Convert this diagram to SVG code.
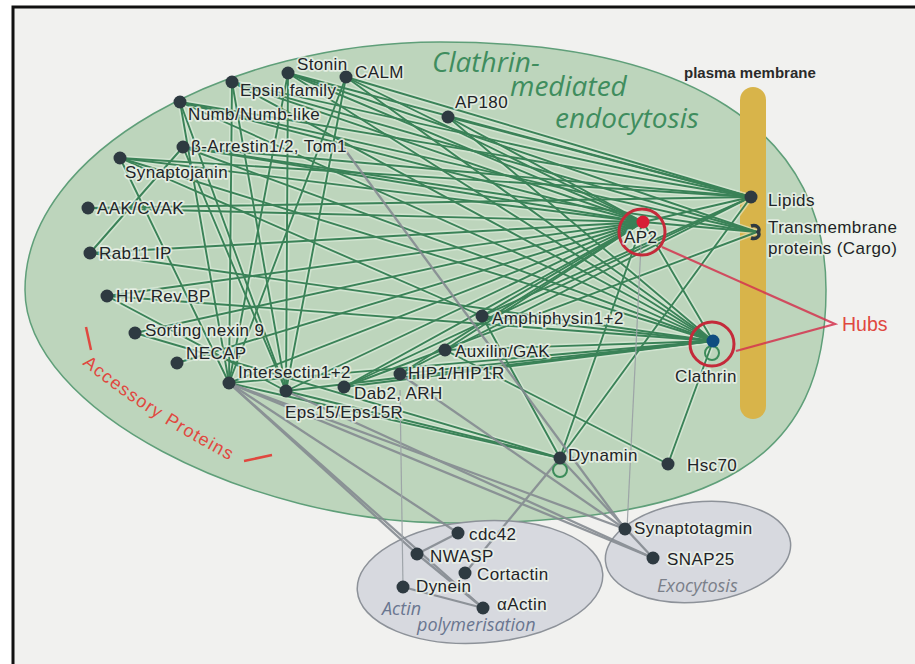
<svg xmlns="http://www.w3.org/2000/svg" width="915" height="664" viewBox="0 0 915 664">
<style>
.bg{fill:#f1f1ef}
.main{fill:#bdd5bc;stroke:#5f9f79;stroke-width:1.5}
.sub{fill:#d7d9df;stroke:#8d9299;stroke-width:1.5}
.bar{fill:#d8b44a}
.nd{fill:#2e3a41}
.lb{font-family:"Liberation Sans",Arial,sans-serif;font-size:17px;letter-spacing:0.4px;fill:#1f2427;paint-order:stroke;stroke:#eef4ec;stroke-width:3.5px;stroke-opacity:.75;stroke-linejoin:round}
.pm{font-family:"Liberation Sans",Arial,sans-serif;font-size:15px;font-weight:bold;fill:#2a2a2a}
.ttl{font-family:"Open Sans","DejaVu Sans",sans-serif;font-style:italic;font-size:28px;fill:#3f8d5e}
.grp{font-family:"Open Sans","DejaVu Sans",sans-serif;font-style:italic;font-size:18px}
.red{font-family:"Liberation Sans",Arial,sans-serif;fill:#e0483f}
.ge{stroke:#2a784b;stroke-width:1.9;fill:none;stroke-linecap:round;opacity:.9}
.halo{stroke:#e3f1e1;stroke-width:5;opacity:.55;fill:none}
.gy{stroke:#858b91;stroke-width:2.3;fill:none;opacity:.9}
.thin{stroke:#9aa0a5;stroke-width:1.2}
.ring{fill:none;stroke:#c42a3a;stroke-width:3}
.open{fill:none;stroke:#3c8c5a;stroke-width:2}
</style>
<rect width="915" height="664" fill="#ffffff"/>
<rect class="bg" x="13" y="7" width="902" height="657"/>
<path d="M13,664 V7 H915" fill="none" stroke="#111" stroke-width="3"/>

<g id="region-cme">
<path class="main" d="M25,290 C25,150 230,42 440,42 C690,42 826,130 826,290 C826,460 720,523 450,523 C250,523 25,410 25,290 Z"/>
</g>
<g id="region-actin">
<ellipse class="sub" cx="480" cy="582" rx="123" ry="61" transform="rotate(-4 480 582)"/>
</g>
<g id="region-exo">
<ellipse class="sub" cx="698" cy="552" rx="93" ry="50" transform="rotate(-6 698 552)"/>
</g>
<g id="plasma-membrane">
<rect class="bar" x="740" y="87" width="26" height="332" rx="13"/>
<text class="pm" x="684" y="78">plasma membrane</text>
</g>

<use href="#green-edges" class="halo"/>
<g id="connectors">
<g class="ge"><g id="green-edges">
<line x1="288" y1="73" x2="643" y2="222"/>
<line x1="346" y1="77" x2="643" y2="222"/>
<line x1="232" y1="82" x2="643" y2="222"/>
<line x1="180" y1="102" x2="643" y2="222"/>
<line x1="448" y1="117" x2="643" y2="222"/>
<line x1="183" y1="147" x2="643" y2="222"/>
<line x1="120" y1="158" x2="643" y2="222"/>
<line x1="88" y1="208" x2="643" y2="222"/>
<line x1="90" y1="253" x2="643" y2="222"/>
<line x1="107" y1="296" x2="643" y2="222"/>
<line x1="135" y1="333" x2="643" y2="222"/>
<line x1="177" y1="363" x2="643" y2="222"/>
<line x1="229" y1="383" x2="643" y2="222"/>
<line x1="286" y1="391" x2="643" y2="222"/>
<line x1="344" y1="387" x2="643" y2="222"/>
<line x1="400" y1="374" x2="643" y2="222"/>
<line x1="445" y1="350" x2="643" y2="222"/>
<line x1="482" y1="316" x2="643" y2="222"/>
<line x1="643" y1="222" x2="751" y2="197"/>
<line x1="643" y1="222" x2="757" y2="232"/>
<line x1="643" y1="222" x2="713" y2="341"/>
<line x1="643" y1="222" x2="560" y2="458"/>
<line x1="288" y1="73" x2="713" y2="341"/>
<line x1="346" y1="77" x2="713" y2="341"/>
<line x1="232" y1="82" x2="713" y2="341"/>
<line x1="180" y1="102" x2="713" y2="341"/>
<line x1="448" y1="117" x2="713" y2="341"/>
<line x1="183" y1="147" x2="713" y2="341"/>
<line x1="120" y1="158" x2="713" y2="341"/>
<line x1="90" y1="253" x2="713" y2="341"/>
<line x1="107" y1="296" x2="713" y2="341"/>
<line x1="229" y1="383" x2="713" y2="341"/>
<line x1="286" y1="391" x2="713" y2="341"/>
<line x1="344" y1="387" x2="713" y2="341"/>
<line x1="400" y1="374" x2="713" y2="341"/>
<line x1="445" y1="350" x2="713" y2="341"/>
<line x1="482" y1="316" x2="713" y2="341"/>
<line x1="668" y1="464" x2="713" y2="341"/>
<line x1="346" y1="77" x2="751" y2="197"/>
<line x1="288" y1="73" x2="751" y2="197"/>
<line x1="232" y1="82" x2="751" y2="197"/>
<line x1="180" y1="102" x2="751" y2="197"/>
<line x1="448" y1="117" x2="751" y2="197"/>
<line x1="183" y1="147" x2="751" y2="197"/>
<line x1="120" y1="158" x2="751" y2="197"/>
<line x1="400" y1="374" x2="751" y2="197"/>
<line x1="344" y1="387" x2="751" y2="197"/>
<line x1="482" y1="316" x2="751" y2="197"/>
<line x1="560" y1="458" x2="751" y2="197"/>
<line x1="88" y1="208" x2="751" y2="197"/>
<line x1="180" y1="102" x2="757" y2="232"/>
<line x1="183" y1="147" x2="757" y2="232"/>
<line x1="288" y1="73" x2="757" y2="232"/>
<line x1="344" y1="387" x2="757" y2="232"/>
<line x1="232" y1="82" x2="757" y2="232"/>
<line x1="229" y1="383" x2="180" y2="102"/>
<line x1="229" y1="383" x2="232" y2="82"/>
<line x1="229" y1="383" x2="288" y2="73"/>
<line x1="229" y1="383" x2="120" y2="158"/>
<line x1="229" y1="383" x2="346" y2="77"/>
<line x1="286" y1="391" x2="232" y2="82"/>
<line x1="286" y1="391" x2="288" y2="73"/>
<line x1="286" y1="391" x2="346" y2="77"/>
<line x1="286" y1="391" x2="180" y2="102"/>
<line x1="286" y1="391" x2="183" y2="147"/>
<line x1="107" y1="296" x2="286" y2="391"/>
<line x1="135" y1="333" x2="560" y2="458"/>
<line x1="482" y1="316" x2="560" y2="458"/>
<line x1="229" y1="383" x2="560" y2="458"/>
<line x1="286" y1="391" x2="560" y2="458"/>
<line x1="445" y1="350" x2="668" y2="464"/>
<line x1="90" y1="253" x2="183" y2="147"/>
<line x1="120" y1="158" x2="482" y2="316"/>
</g></g>
<g class="gy"><g id="grey-edges">
<line x1="229" y1="383" x2="417" y2="554"/>
<line x1="229" y1="383" x2="458" y2="533"/>
<line x1="229" y1="383" x2="483" y2="608"/>
<line x1="229" y1="383" x2="625" y2="529"/>
<line x1="229" y1="383" x2="653" y2="558"/>
<line x1="286" y1="391" x2="653" y2="558"/>
<line x1="400" y1="374" x2="625" y2="529"/>
<line x1="343" y1="147" x2="625" y2="529"/>
<line x1="560" y1="458" x2="465" y2="573"/>
<line x1="560" y1="458" x2="653" y2="558"/>
<line x1="458" y1="533" x2="417" y2="554"/>
<line x1="417" y1="554" x2="483" y2="608"/>
<line x1="403" y1="587" x2="483" y2="608"/>
<line class="thin" x1="641" y1="245" x2="627" y2="529"/>
<line class="thin" x1="400" y1="390" x2="403" y2="587"/>
</g></g>
</g>

<g id="n-stonin"><circle class="nd" cx="288" cy="73" r="6.5"/><text class="lb" x="297" y="70">Stonin</text></g>
<g id="n-calm"><circle class="nd" cx="346" cy="77" r="6.5"/><text class="lb" x="355" y="78">CALM</text></g>
<g id="n-epsin"><circle class="nd" cx="232" cy="82" r="6.5"/><text class="lb" x="240" y="96">Epsin family</text></g>
<g id="n-numb"><circle class="nd" cx="180" cy="102" r="6.5"/><text class="lb" x="188" y="120">Numb/Numb-like</text></g>
<g id="n-ap180"><circle class="nd" cx="448" cy="117" r="6.5"/><text class="lb" x="455" y="108">AP180</text></g>
<g id="n-arrestin"><circle class="nd" cx="183" cy="147" r="6.5"/><text class="lb" x="191" y="152">β-Arrestin1/2, Tom1</text></g>
<g id="n-synaptojanin"><circle class="nd" cx="120" cy="158" r="6.5"/><text class="lb" x="125" y="178">Synaptojanin</text></g>
<g id="n-aak"><circle class="nd" cx="88" cy="208" r="6.5"/><text class="lb" x="97" y="214">AAK/CVAK</text></g>
<g id="n-rab11"><circle class="nd" cx="90" cy="253" r="6.5"/><text class="lb" x="99" y="259">Rab11 IP</text></g>
<g id="n-hivrev"><circle class="nd" cx="107" cy="296" r="6.5"/><text class="lb" x="116" y="302">HIV Rev BP</text></g>
<g id="n-snx9"><circle class="nd" cx="135" cy="333" r="6.5"/><text class="lb" x="145" y="336">Sorting nexin 9</text></g>
<g id="n-necap"><circle class="nd" cx="177" cy="363" r="6.5"/><text class="lb" x="186" y="359">NECAP</text></g>
<g id="n-intersectin"><circle class="nd" cx="229" cy="383" r="6.5"/><text class="lb" x="238" y="378">Intersectin1+2</text></g>
<g id="n-eps15"><circle class="nd" cx="286" cy="391" r="6.5"/><text class="lb" x="285" y="418">Eps15/Eps15R</text></g>
<g id="n-dab2"><circle class="nd" cx="344" cy="387" r="6.5"/><text class="lb" x="354" y="399">Dab2, ARH</text></g>
<g id="n-hip1"><circle class="nd" cx="400" cy="374" r="6.5"/><text class="lb" x="408" y="379">HIP1/HIP1R</text></g>
<g id="n-auxilin"><circle class="nd" cx="445" cy="350" r="6.5"/><text class="lb" x="455" y="357">Auxilin/GAK</text></g>
<g id="n-amphiphysin"><circle class="nd" cx="482" cy="316" r="6.5"/><text class="lb" x="492" y="324">Amphiphysin1+2</text></g>
<g id="n-ap2"><circle class="ring" cx="642" cy="232" r="23"/><circle cx="643" cy="222" r="6.5" fill="#d81e36"/><text class="lb" x="624" y="243">AP2</text></g>
<g id="n-lipids"><circle class="nd" cx="751" cy="197" r="6.5"/><text class="lb" x="768" y="206">Lipids</text></g>
<g id="n-cargo"><path d="M751,226 C757,224 761,229 758,232 C761,235 757,240 751,238" fill="none" stroke="#2e3a41" stroke-width="3.5"/><text class="lb" x="768" y="233">Transmembrane</text><text class="lb" x="768" y="254">proteins (Cargo)</text></g>
<g id="n-clathrin"><circle class="ring" cx="712" cy="344" r="22"/><circle class="open" cx="712" cy="353" r="7"/><circle cx="713" cy="341" r="6.5" fill="#0f4d80"/><text class="lb" x="675" y="382">Clathrin</text></g>
<g id="n-dynamin"><circle class="open" cx="560" cy="470" r="7"/><circle class="nd" cx="560" cy="458" r="6.5"/><text class="lb" x="568" y="461">Dynamin</text></g>
<g id="n-hsc70"><circle class="nd" cx="668" cy="464" r="6.5"/><text class="lb" x="687" y="471">Hsc70</text></g>
<g id="n-cdc42"><circle class="nd" cx="458" cy="533" r="6.5"/><text class="lb" x="469" y="540">cdc42</text></g>
<g id="n-nwasp"><circle class="nd" cx="417" cy="554" r="6.5"/><text class="lb" x="430" y="562">NWASP</text></g>
<g id="n-cortactin"><circle class="nd" cx="465" cy="573" r="6.5"/><text class="lb" x="477" y="580">Cortactin</text></g>
<g id="n-dynein"><circle class="nd" cx="403" cy="587" r="6.5"/><text class="lb" x="416" y="592">Dynein</text></g>
<g id="n-actin"><circle class="nd" cx="483" cy="608" r="6.5"/><text class="lb" x="497" y="610">αActin</text></g>
<g id="n-synaptotagmin"><circle class="nd" cx="625" cy="529" r="6.5"/><text class="lb" x="634" y="534">Synaptotagmin</text></g>
<g id="n-snap25"><circle class="nd" cx="653" cy="558" r="6.5"/><text class="lb" x="667" y="565">SNAP25</text></g>

<g id="titles">
<text class="ttl" x="432" y="72">Clathrin-</text>
<text class="ttl" x="510" y="96">mediated</text>
<text class="ttl" x="555" y="128">endocytosis</text>
<text class="grp" x="382" y="615" fill="#6a7690">Actin</text>
<text class="grp" x="417" y="631" fill="#6a7690">polymerisation</text>
<text class="grp" x="657" y="592" fill="#7b808a">Exocytosis</text>
</g>

<g id="accessory">
<path id="accPath" d="M82,364 Q140,413 236,464" fill="none"/>
<text class="red" font-size="18" letter-spacing="1.3"><textPath href="#accPath">Accessory Proteins</textPath></text>
<line x1="86" y1="327" x2="91" y2="350" stroke="#e0483f" stroke-width="2.5"/>
<line x1="244" y1="461" x2="272" y2="455" stroke="#e0483f" stroke-width="2.5"/>
</g>

<g id="hubs">
<path d="M662,247 L835,324 L736,351" fill="none" stroke="#d4344f" stroke-width="2.2" opacity=".85"/>
<text class="red" x="842" y="331" font-size="19.5" fill="#d8355a">Hubs</text>
</g>
</svg>
